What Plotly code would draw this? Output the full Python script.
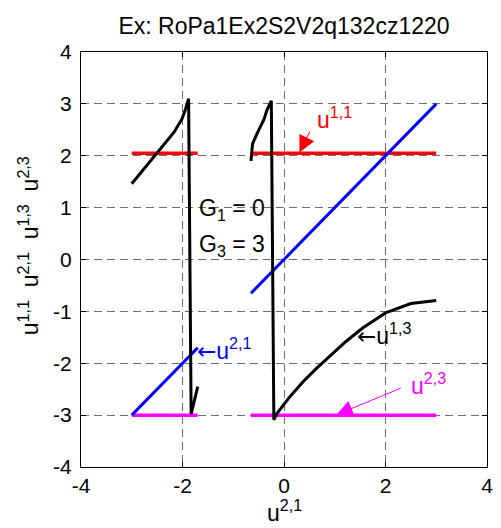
import plotly.graph_objects as go

# ---- data ----
u21_left = [-3.0, -1.7]
u21_right = [-0.65, 3.0]
u11_level = 2.05
u23_level = -3.0

u13_x1 = [-3.0, -2.75, -2.47, -2.17, -2.01, -1.95, -1.88, -1.83, -1.7]
u13_y1 = [1.46, 1.76, 2.10, 2.45, 2.71, 2.87, 3.10, -2.98, -2.45]
u13_x2 = [-0.65, -0.62, -0.52, -0.39, -0.34, -0.25, -0.2, -0.14, 0.12, 0.38, 0.64,
          0.9, 1.22, 1.55, 2.0, 2.5, 3.0]
u13_y2 = [1.9, 2.23, 2.45, 2.71, 2.87, 3.06, -3.09, -2.97, -2.64, -2.35, -2.1,
          -1.87, -1.58, -1.32, -1.03, -0.85, -0.79]

x_ticks = [-4, -2, 0, 2, 4]
y_ticks = [-4, -3, -2, -1, 0, 1, 2, 3, 4]

FONT = "Liberation Sans, Arial, sans-serif"
FS = 21
AFS = 23
ARROW = '<span style="font-family:DejaVu Sans">\u2190</span>'

fig = go.Figure()

def seg(xs, ys, color, width):
    fig.add_trace(go.Scatter(x=xs, y=ys, mode="lines",
                             line=dict(color=color, width=width),
                             showlegend=False, hoverinfo="skip"))

for xs in (u21_left, u21_right):
    seg(xs, [u11_level] * len(xs), "#ff0000", 3.5)
for xs in (u21_left, u21_right):
    seg(xs, [u23_level] * len(xs), "#ff00ff", 3.5)
for xs in (u21_left, u21_right):
    seg(xs, xs, "#0000ff", 3)
seg(u13_x1, u13_y1, "#000000", 3)
seg(u13_x2, u13_y2, "#000000", 3)

def txt(x, y, text, color, xanchor="left", yanchor="bottom"):
    fig.add_annotation(x=x, y=y, xref="x", yref="y", text=text, showarrow=False,
                       xanchor=xanchor, yanchor=yanchor,
                       font=dict(family=FONT, size=AFS, color=color))

def arrow(hx, hy, tx, ty, color):
    fig.add_annotation(x=hx, y=hy, ax=tx, ay=ty, xref="x", yref="y",
                       axref="x", ayref="y", text="", showarrow=True,
                       arrowhead=2, arrowsize=3.3, arrowwidth=1,
                       arrowcolor=color, standoff=0, startstandoff=0)

txt(0.62, 2.40, "u<sup>1,1</sup>", "#ff0000")
arrow(0.305, 2.064, 0.524, 2.497, "#ff0000")
txt(2.47, -2.73, "u<sup>2,3</sup>", "#ff00ff")
arrow(1.03, -2.996, 2.33, -2.468, "#ff00ff")
txt(-1.75, -2.05, ARROW + "u<sup>2,1</sup>", "#0000ff")
txt(1.40, -1.76, ARROW + "u<sup>1,3</sup>", "#000000")
txt(-1.71, 0.64, "G<sub>1</sub> = 0", "#000000")
txt(-1.71, -0.04, "G<sub>3</sub> = 3", "#000000")

# axis labels as annotations
fig.add_annotation(x=0.5, y=-0.066, xref="paper", yref="paper",
                   text="u<sup>2,1</sup>", showarrow=False,
                   xanchor="center", yanchor="top",
                   font=dict(family=FONT, size=AFS, color="#000000"))
fig.add_annotation(x=-0.128, y=0.532, xref="paper", yref="paper",
                   text="u<sup>1,1</sup>\u00a0\u00a0u<sup>2,1</sup>\u00a0\u00a0u<sup>1,3</sup>\u00a0\u00a0u<sup>2,3</sup>",
                   showarrow=False, textangle=-90,
                   xanchor="center", yanchor="middle",
                   font=dict(family=FONT, size=AFS, color="#000000"))

axis_common = dict(showline=True, linecolor="#000000", linewidth=1, mirror="ticks",
                   ticks="inside", ticklen=5, tickcolor="#000000", tickwidth=1,
                   showgrid=True, gridcolor="#6e6e6e", gridwidth=1, griddash="8px,5px",
                   zeroline=False, tickfont=dict(family=FONT, size=FS, color="#000000"))

fig.update_xaxes(range=[-4, 4], tickvals=x_ticks, ticktext=[str(v) for v in x_ticks],
                 **axis_common)
fig.update_yaxes(range=[-4, 4], tickvals=y_ticks, ticktext=[str(v) for v in y_ticks],
                 ticklabelstandoff=4, **axis_common)

fig.update_layout(
    width=501, height=528,
    margin=dict(l=81, r=8, t=52, b=61),
    paper_bgcolor="#ffffff", plot_bgcolor="#ffffff",
    title=dict(text="Ex: RoPa1Ex2S2V2q132cz1220", x=0.5, xref="paper",
               y=1 - 25.5 / 528, yref="container", yanchor="middle", xanchor="center",
               font=dict(family=FONT, size=23, color="#000000")),
)

fig.write_html("out.html", config={"displayModeBar": False},
               post_script="document.body.style.margin='0';document.body.style.overflow='hidden';")
